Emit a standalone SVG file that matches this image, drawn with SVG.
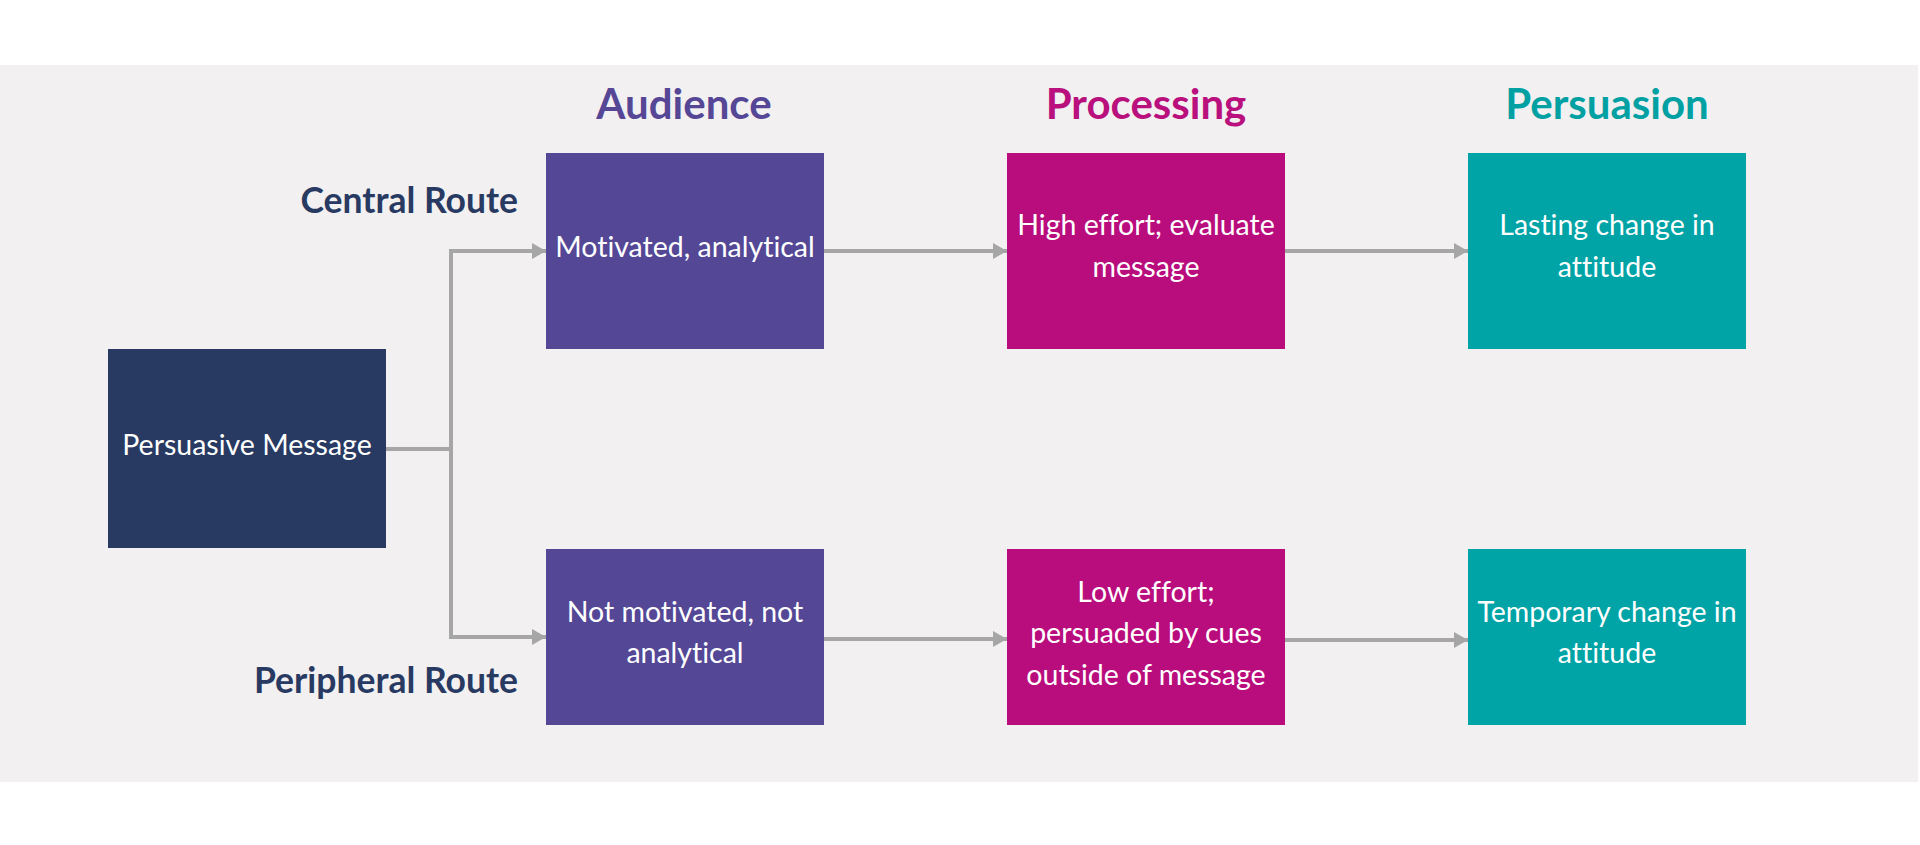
<svg xmlns="http://www.w3.org/2000/svg" width="1920" height="845" viewBox="0 0 1920 845">
<defs>
<style>
text{font-variant-ligatures:none;font-feature-settings:"liga" 0}
.body{font-family:Lato,"Open Sans","Liberation Sans",sans-serif;font-size:28.5px;fill:#ffffff;text-anchor:middle}
.head{font-family:Lato,"Open Sans","Liberation Sans",sans-serif;font-size:42px;font-weight:bold;text-anchor:middle}
.route{font-family:Lato,"Open Sans","Liberation Sans",sans-serif;font-size:35.5px;font-weight:bold;fill:#283A62;text-anchor:end}
.conn{fill:none;stroke:#A6A6A6;stroke-width:4}
</style>
<marker id="arr" markerUnits="userSpaceOnUse" markerWidth="15" markerHeight="17" refX="14" refY="8" orient="auto" viewBox="0 0 15 17">
<path d="M0,0 L14,8 L0,16 z" fill="#A6A6A6"/>
</marker>
</defs>
<rect x="0" y="0" width="1920" height="845" fill="#ffffff"/>
<rect x="0" y="65" width="1918" height="717" fill="#F2F0F1"/>

<g id="headers">
<text class="head" x="684" y="119" fill="#554696">Audience</text>
<text class="head" x="1146" y="119" fill="#B9107D">Processing</text>
<text class="head" x="1607" y="119" fill="#00A0A3">Persuasion</text>
</g>
<g id="route-labels">
<text class="route" x="518" y="213">Central Route</text>
<text class="route" x="518" y="693">Peripheral Route</text>
</g>

<g id="connectors">
<path class="conn" d="M386 449 H451 V251 H546" marker-end="url(#arr)"/>
<path class="conn" d="M451 449 V637 H546" marker-end="url(#arr)"/>
<path class="conn" d="M824 251 H1007" marker-end="url(#arr)"/>
<path class="conn" d="M1285 251 H1468" marker-end="url(#arr)"/>
<path class="conn" d="M824 639 H1007" marker-end="url(#arr)"/>
<path class="conn" d="M1285 640 H1468" marker-end="url(#arr)"/>
</g>

<g id="persuasive-message">
<rect x="108" y="349" width="278" height="199" fill="#283A62"/>
<text class="body" x="247" y="455">Persuasive Message</text>
</g>
<g id="motivated">
<rect x="546" y="153" width="278" height="196" fill="#544796"/>
<text class="body" x="685" y="257">Motivated, analytical</text>
</g>
<g id="high-effort">
<rect x="1007" y="153" width="278" height="196" fill="#B90C7D"/>
<text class="body" x="1146" y="235">High effort; evaluate</text>
<text class="body" x="1146" y="277">message</text>
</g>
<g id="lasting-change">
<rect x="1468" y="153" width="278" height="196" fill="#00A3A6"/>
<text class="body" x="1607" y="235">Lasting change in</text>
<text class="body" x="1607" y="277">attitude</text>
</g>
<g id="not-motivated">
<rect x="546" y="549" width="278" height="176" fill="#544796"/>
<text class="body" x="685" y="622">Not motivated, not</text>
<text class="body" x="685" y="663">analytical</text>
</g>
<g id="low-effort">
<rect x="1007" y="549" width="278" height="176" fill="#B90C7D"/>
<text class="body" x="1146" y="602">Low effort;</text>
<text class="body" x="1146" y="643">persuaded by cues</text>
<text class="body" x="1146" y="685">outside of message</text>
</g>
<g id="temporary-change">
<rect x="1468" y="549" width="278" height="176" fill="#00A3A6"/>
<text class="body" x="1607" y="622">Temporary change in</text>
<text class="body" x="1607" y="663">attitude</text>
</g>
</svg>
